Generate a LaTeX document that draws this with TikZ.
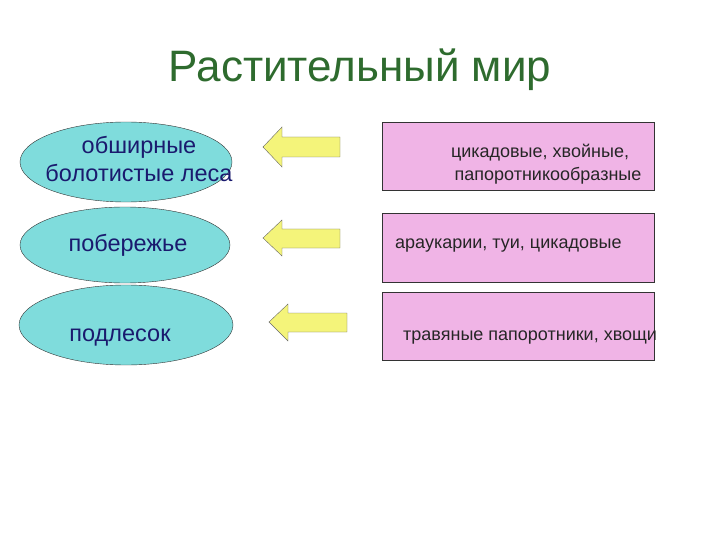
\documentclass[tikz,border=0pt]{standalone}
\usepackage{fontspec}
\setmainfont{Liberation Sans}
\usetikzlibrary{shapes.geometric}
\definecolor{cy}{HTML}{7FDCDC}
\definecolor{pk}{HTML}{F0B4E6}
\definecolor{yl}{HTML}{F4F47A}
\definecolor{nv}{HTML}{1A1A6E}
\definecolor{tg}{HTML}{2E6B2E}
\tikzset{
 ell/.style={draw=black!80,fill=cy,thin},
 etxt/.style={font=\fontsize{23.5}{28}\selectfont,text=nv,align=center,inner sep=0pt},
 box/.style={draw=black!80,fill=pk,thin},
 btxt/.style={font=\fontsize{18}{22}\selectfont,text=black!85,align=center,inner sep=0pt},
 arr/.style={draw=black!60,fill=yl,thin,line join=miter}
}
\begin{document}
\begin{tikzpicture}[x=1pt,y=-1pt]
\useasboundingbox (0,0) rectangle (720,540);
\node[font=\fontsize{44}{48}\selectfont,text=tg] (title) at (360,70) {Растительный мир};
% ellipses
\draw[ell] (126,162) ellipse (106 and 40);
\draw[ell] (125,245) ellipse (105 and 38);
\draw[ell] (126,325) ellipse (107 and 40);
\node[etxt] (e1) at (139,159) {обширные\\болотистые леса};
\node[etxt] (e2) at (128,245) {побережье};
\node[etxt] (e3) at (120,338) {подлесок};
% arrows
\draw[arr] (263,147) -- (282,127) -- (282,137) -- (340,137) -- (340,157) -- (282,157) -- (282,167) -- cycle;
\draw[arr] (263,238) -- (282,220) -- (282,229) -- (340,229) -- (340,248) -- (282,248) -- (282,256) -- cycle;
\draw[arr] (269,322) -- (288,304) -- (288,313) -- (347,313) -- (347,332) -- (288,332) -- (288,341) -- cycle;
% boxes
\draw[box] (382,122) rectangle (654,190);
\draw[box] (382,213) rectangle (654,282);
\draw[box] (382,292) rectangle (654,360);
\node[btxt] (b1a) at (540,153) {цикадовые, хвойные,};
\node[btxt] (b1b) at (548,176) {папоротникообразные};
\node[btxt,anchor=west] (b2) at (395,246) {араукарии, туи, цикадовые};
\node[btxt,anchor=west] (b3) at (403,338) {травяные папоротники, хвощи};
\end{tikzpicture}
\end{document}
